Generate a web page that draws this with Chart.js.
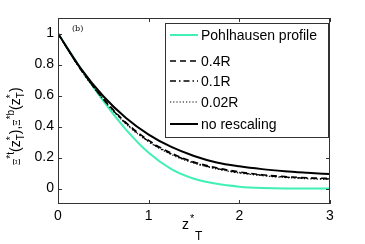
<!DOCTYPE html>
<html>
<head>
<meta charset="utf-8">
<script src="https://cdn.jsdelivr.net/npm/chart.js@4.4.1/dist/chart.umd.min.js"></script>
<style>
  html, body { margin: 0; padding: 0; background: #fff; }
  #wrap { width: 365px; height: 244px; }
</style>
</head>
<body>
<div id="wrap"><canvas id="xiChart" width="365" height="244"></canvas></div>
<script>
// values
var zValues = [0, 0.25, 0.5, 0.75, 1.0, 1.25, 1.5, 1.75, 2.0, 2.25, 2.5, 2.75, 3.0];
var pohlhausen = [1, 0.775, 0.565, 0.38, 0.23, 0.125, 0.063, 0.03, 0.012, 0.003, 0, 0, 0];
var r04 = [1, 0.77, 0.58, 0.425, 0.31, 0.228, 0.171, 0.133, 0.107, 0.089, 0.077, 0.069, 0.065];
var r01 = [1, 0.768, 0.576, 0.42, 0.305, 0.223, 0.167, 0.129, 0.103, 0.086, 0.074, 0.066, 0.062];
var r002 = [1, 0.766, 0.573, 0.416, 0.301, 0.219, 0.163, 0.126, 0.1, 0.083, 0.071, 0.063, 0.058];
var noRescaling = [1, 0.775, 0.595, 0.455, 0.348, 0.268, 0.21, 0.168, 0.143, 0.125, 0.112, 0.102, 0.093];

var xTicks = [0, 1, 2, 3];
var yTicks = [0, 0.2, 0.4, 0.6, 0.8, 1];
var yTickLabels = ['0', '0.2', '0.4', '0.6', '0.8', '1'];

function pts(ys) {
    return zValues.map(function (z, i) { return { x: z, y: ys[i] }; });
}

var green = '#40f0b4';
var series = [
    { label: 'Pohlhausen profile', data: pohlhausen, color: green, width: 2, dash: [] },
    { label: '0.4R', data: r04, color: '#000', width: 1.6, dash: [6, 4] },
    { label: '0.1R', data: r01, color: '#000', width: 1.4, dash: [6, 3, 1.5, 3] },
    { label: '0.02R', data: r002, color: '#000', width: 1.2, dash: [1.2, 2] },
    { label: 'no rescaling', data: noRescaling, color: '#000', width: 2, dash: [] }
];
var legendRows = [35, 61, 81, 102, 124];

var SANS = '"Liberation Sans", Arial, sans-serif';

// draws text pieces in a row; a piece with stack=true shares its x with the previous one
function drawPieces(c, parts) {
    var cx = 0, lastX = 0, lastW = 0;
    parts.forEach(function (p) {
        c.font = p.font;
        var w = c.measureText(p.t).width;
        var x = p.stack ? lastX : cx;
        c.fillText(p.t, x, p.dy);
        if (p.stack) {
            cx = lastX + Math.max(lastW, w);
        } else {
            lastX = x; lastW = w; cx = x + w;
        }
    });
}

// frame, inner ticks, tick labels, axis titles, legend box
var decorations = {
    id: 'decorations',
    afterDraw: function (chart) {
        var c = chart.ctx, a = chart.chartArea;
        var xs = chart.scales.x, ys = chart.scales.y;
        c.save();
        c.strokeStyle = '#333';
        c.lineWidth = 1;
        c.setLineDash([]);
        c.strokeRect(a.left + 0.5, a.top + 0.5, a.right - a.left - 1, a.bottom - a.top - 1);
        c.beginPath();
        xTicks.forEach(function (t) {
            var px = Math.round(xs.getPixelForValue(t)) + 0.5;
            c.moveTo(px, a.bottom); c.lineTo(px, a.bottom - 4);
            c.moveTo(px, a.top); c.lineTo(px, a.top + 4);
        });
        yTicks.forEach(function (t) {
            var py = Math.round(ys.getPixelForValue(t)) + 0.5;
            c.moveTo(a.left, py); c.lineTo(a.left + 4, py);
            c.moveTo(a.right, py); c.lineTo(a.right - 4, py);
        });
        c.stroke();

        c.fillStyle = '#000';
        c.font = '14px ' + SANS;
        c.textAlign = 'center';
        c.textBaseline = 'top';
        xTicks.forEach(function (t) {
            c.fillText(String(t), xs.getPixelForValue(t), a.bottom + 5);
        });
        c.textAlign = 'right';
        c.textBaseline = 'middle';
        yTicks.forEach(function (t, i) {
            c.fillText(yTickLabels[i], a.left - 4, ys.getPixelForValue(t));
        });

        // (b)
        c.font = '8px "DejaVu Serif", serif';
        c.textAlign = 'left';
        c.textBaseline = 'middle';
        c.fillText('(b)', 72, 29);

        // x title z*_T
        c.font = '14px ' + SANS;
        c.textBaseline = 'alphabetic';
        c.fillText('z', 182, 229);
        c.font = '11px ' + SANS;
        c.fillText('*', 190, 222);
        c.font = '12px ' + SANS;
        c.fillText('T', 195, 240);

        // y title, rotated
        c.translate(20, 165);
        c.rotate(-Math.PI / 2);
        var xi = '9px "DejaVu Serif", serif', big = '14px ' + SANS, small = '10px ' + SANS;
        drawPieces(c, [
            { t: 'Ξ', font: xi, dy: 0 },
            { t: '*t', font: small, dy: -6 },
            { t: '(z', font: big, dy: 0 },
            { t: '*', font: small, dy: -6 },
            { t: 'T', font: small, dy: 4, stack: true },
            { t: '),', font: big, dy: 0 },
            { t: 'Ξ', font: xi, dy: 0 },
            { t: '*b', font: small, dy: -6 },
            { t: '(z', font: big, dy: 0 },
            { t: '*', font: small, dy: -6 },
            { t: 'T', font: small, dy: 4, stack: true },
            { t: ')', font: big, dy: 0 }
        ]);
        c.restore();

        // legend
        c.save();
        c.fillStyle = '#fff';
        c.fillRect(165, 23, 163, 114);
        c.strokeStyle = '#333';
        c.lineWidth = 1;
        c.strokeRect(165.5, 23.5, 163, 114);
        c.font = '14px ' + SANS;
        c.textAlign = 'left';
        c.textBaseline = 'middle';
        series.forEach(function (s, i) {
            var y = legendRows[i];
            c.strokeStyle = s.color;
            c.lineWidth = s.width;
            c.setLineDash(s.dash);
            c.beginPath();
            c.moveTo(170, y); c.lineTo(198, y);
            c.stroke();
            c.fillStyle = '#000';
            c.fillText(s.label, 201, y + 1);
        });
        c.restore();
    }
};

var ctx = document.getElementById('xiChart').getContext('2d');
var xiChart = new Chart(ctx, {
    type: 'line',
    data: {
        datasets: series.map(function (s) {
            return {
                label: s.label,
                data: pts(s.data),
                borderColor: s.color,
                borderWidth: s.width,
                borderDash: s.dash,
                pointRadius: 0,
                fill: false,
                cubicInterpolationMode: 'monotone'
            };
        }).reverse()
    },
    options: {
        responsive: false,
        animation: false,
        layout: { padding: { left: 58, right: 35, top: 18, bottom: 40 } },
        plugins: { legend: { display: false }, tooltip: { enabled: false } },
        scales: {
            x: { type: 'linear', min: 0, max: 3, display: false },
            y: { type: 'linear', min: -0.1, max: 1.1, display: false }
        }
    },
    plugins: [decorations]
});
</script>
</body>
</html>
